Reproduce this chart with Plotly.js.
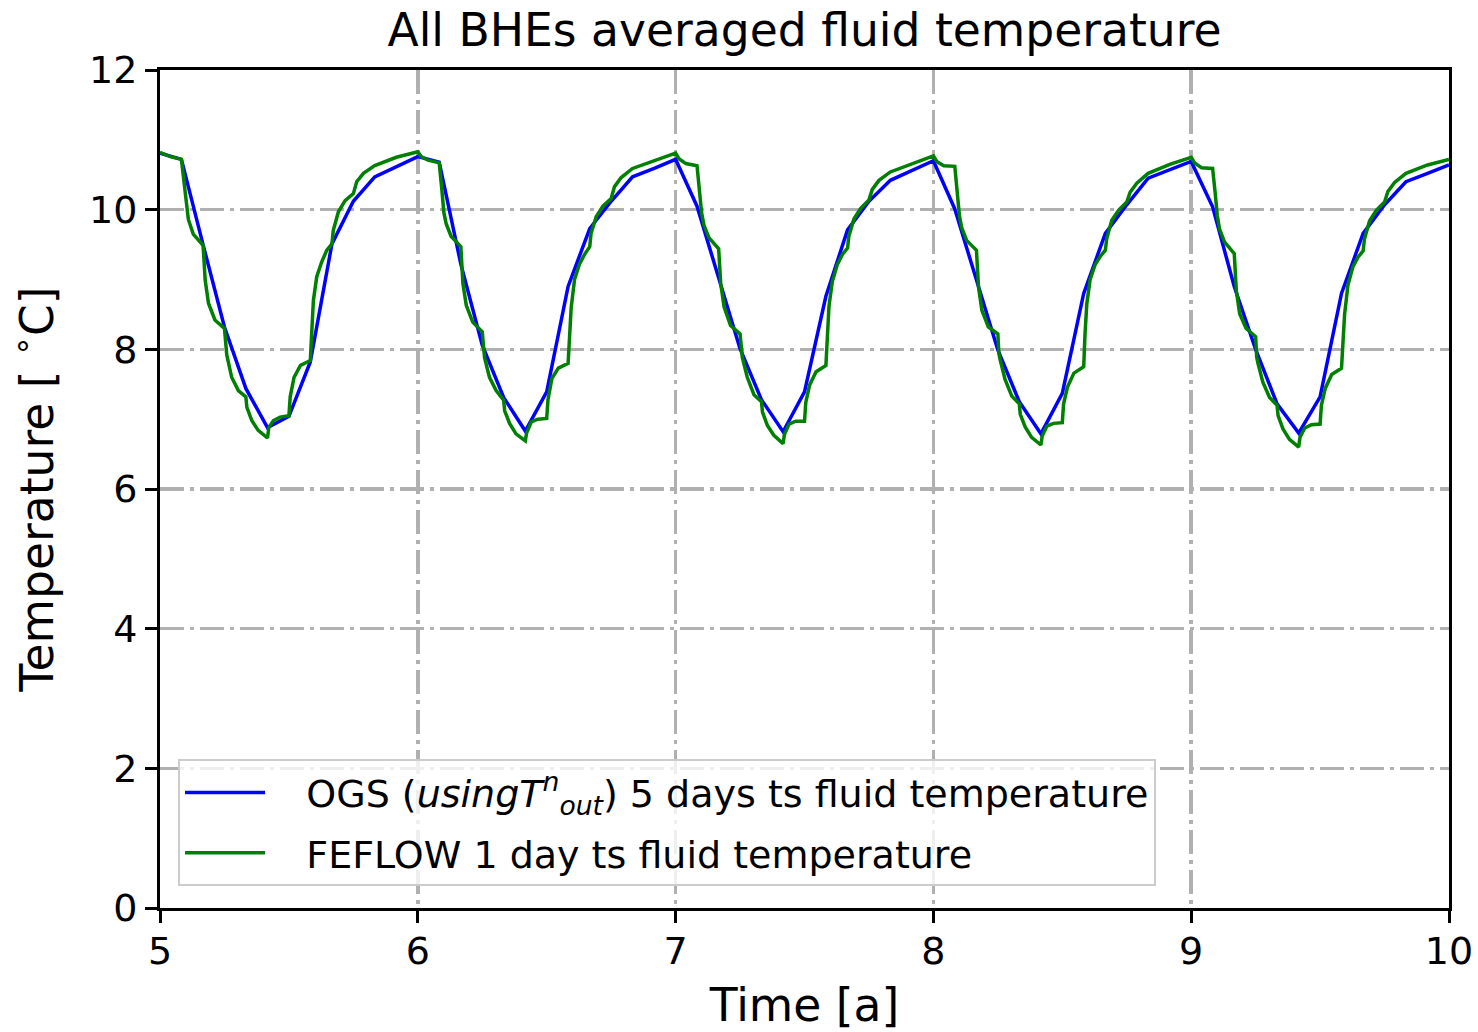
<!DOCTYPE html>
<html><head><meta charset="utf-8">
<script src="https://cdn.plot.ly/plotly-3.0.1.min.js"></script>
<style>html,body{margin:0;padding:0;background:#fff}#chart{width:1478px;height:1032px}</style>
</head><body><div id="chart"></div>
<script>
// ---------- data ----------
const years = [5, 6, 7, 8, 9];

// OGS (5 days ts): monthly readings, fraction of the year
const ogsMonthFrac = [0.000, 0.083, 0.167, 0.250, 0.333, 0.417, 0.500, 0.583, 0.667, 0.750, 0.833, 0.917];
const ogsTemp5 = [10.81, 10.72, 9.50, 8.32, 7.44, 6.88, 7.04, 7.82, 9.51, 10.12, 10.47, 10.61];
const ogsTemp6 = [10.76, 10.68, 9.22, 8.06, 7.31, 6.83, 7.39, 8.90, 9.73, 10.12, 10.47, 10.59];
const ogsTemp7 = [10.72, 10.05, 9.02, 8.01, 7.28, 6.82, 7.39, 8.76, 9.71, 10.12, 10.42, 10.56];
const ogsTemp8 = [10.70, 10.01, 8.99, 7.99, 7.25, 6.79, 7.37, 8.80, 9.66, 10.07, 10.45, 10.57];
const ogsTemp9 = [10.69, 10.04, 8.90, 8.00, 7.22, 6.80, 7.32, 8.80, 9.66, 10.07, 10.40, 10.52];
const ogsEndTime = 10.0;
const ogsEndTemp = 10.64;

// FEFLOW (1 day ts): readings at these fractions of each year
const feflowFrac = [0.013, 0.040,
  0.083, 0.093, 0.101, 0.110, 0.129,
  0.167, 0.170, 0.175, 0.188, 0.213,
  0.250, 0.254, 0.259, 0.278, 0.304,
  0.333, 0.337, 0.356, 0.381,
  0.417,
  0.422, 0.440, 0.466,
  0.500, 0.505, 0.520, 0.545,
  0.583, 0.588, 0.595, 0.608, 0.627, 0.647,
  0.667, 0.672, 0.692, 0.718,
  0.750, 0.763, 0.789, 0.833, 0.917, 1.000];
const feflowStartTime = 5.0;
const feflowStartTemp = 10.82;
const feflowTemp5 = [10.80, 10.76, 10.72, 10.42, 10.08, 9.86, 9.65, 9.49, 9.32, 9.00, 8.66, 8.42, 8.30, 8.13, 7.92, 7.60, 7.41, 7.32, 7.17, 6.98, 6.84, 6.73, 6.88, 6.98, 7.03, 7.05, 7.32, 7.60, 7.77, 7.84, 8.18, 8.70, 9.04, 9.25, 9.42, 9.51, 9.70, 9.97, 10.13, 10.23, 10.40, 10.52, 10.63, 10.75, 10.83];
const feflowTemp6 = [10.76, 10.71, 10.67, 10.30, 9.96, 9.80, 9.62, 9.47, 9.27, 8.94, 8.63, 8.39, 8.25, 7.99, 7.88, 7.60, 7.41, 7.27, 7.12, 6.94, 6.79, 6.69, 6.80, 6.96, 7.00, 7.01, 7.28, 7.58, 7.73, 7.80, 8.15, 8.60, 9.00, 9.22, 9.36, 9.47, 9.66, 9.90, 10.05, 10.16, 10.33, 10.46, 10.59, 10.70, 10.81];
const feflowTemp7 = [10.73, 10.66, 10.63, 10.22, 9.95, 9.78, 9.60, 9.44, 9.27, 8.94, 8.61, 8.34, 8.22, 7.99, 7.88, 7.60, 7.35, 7.25, 7.10, 6.91, 6.77, 6.65, 6.78, 6.93, 6.97, 6.97, 7.24, 7.49, 7.68, 7.77, 8.26, 8.62, 8.97, 9.21, 9.36, 9.45, 9.62, 9.87, 10.02, 10.14, 10.29, 10.42, 10.54, 10.66, 10.77];
const feflowTemp8 = [10.69, 10.63, 10.62, 10.25, 9.91, 9.74, 9.56, 9.42, 9.23, 8.89, 8.56, 8.32, 8.22, 7.94, 7.85, 7.57, 7.33, 7.22, 7.07, 6.89, 6.74, 6.63, 6.76, 6.90, 6.94, 6.95, 7.22, 7.46, 7.66, 7.75, 8.21, 8.65, 9.00, 9.21, 9.33, 9.42, 9.58, 9.85, 9.99, 10.11, 10.25, 10.38, 10.52, 10.65, 10.75];
const feflowTemp9 = [10.67, 10.60, 10.59, 10.24, 9.92, 9.72, 9.54, 9.37, 9.18, 8.84, 8.51, 8.30, 8.18, 7.89, 7.80, 7.53, 7.31, 7.20, 7.05, 6.86, 6.71, 6.60, 6.74, 6.87, 6.92, 6.93, 7.20, 7.44, 7.64, 7.73, 8.05, 8.50, 8.92, 9.18, 9.32, 9.41, 9.58, 9.84, 9.99, 10.11, 10.26, 10.39, 10.52, 10.64, 10.72];

const xTicks = [5, 6, 7, 8, 9, 10];
const yTicks = [0, 2, 4, 6, 8, 10, 12];
const legendPad = '\u00a0\u00a0\u00a0';
const ogsName = legendPad + 'OGS (<i>usingT</i><sup><i>n</i></sup><sub><i>out</i></sub>) 5 days ts fluid temperature';
const feflowName = legendPad + 'FEFLOW 1 day ts fluid temperature';

// ---------- assemble series ----------
const ogsByYear = [ogsTemp5, ogsTemp6, ogsTemp7, ogsTemp8, ogsTemp9];
const feflowByYear = [feflowTemp5, feflowTemp6, feflowTemp7, feflowTemp8, feflowTemp9];
const ogsX = [], ogsY = [];
years.forEach((yr, i) => {
  ogsMonthFrac.forEach((f, j) => { ogsX.push(yr + f); ogsY.push(ogsByYear[i][j]); });
});
ogsX.push(ogsEndTime); ogsY.push(ogsEndTemp);
const feX = [feflowStartTime], feY = [feflowStartTemp];
years.forEach((yr, i) => {
  feflowFrac.forEach((f, j) => { feX.push(yr + f); feY.push(feflowByYear[i][j]); });
});

const traces = [
  {x: ogsX, y: ogsY, type: 'scatter', mode: 'lines', name: ogsName, legendgroup: 'ogs',
   line: {color: '#0000ff', width: 3.5}},
  {x: feX, y: feY, type: 'scatter', mode: 'lines', name: feflowName, legendgroup: 'feflow',
   line: {color: '#008000', width: 3.5}}
];

const axisCommon = {
  ticks: 'outside', ticklen: 12, tickwidth: 3, tickcolor: '#000',
  showline: true, linewidth: 3, linecolor: '#000', mirror: true,
  showgrid: true, gridcolor: '#b0b0b0', gridwidth: 3.5, griddash: '24px,6px,4px,6px',
  zeroline: false, tickfont: {size: 38, color: '#000'}
};

const layout = {
  width: 1478, height: 1032,
  margin: {l: 160, r: 29, t: 70, b: 124},
  paper_bgcolor: '#ffffff', plot_bgcolor: '#ffffff',
  font: {family: 'DejaVu Sans', size: 38, color: '#000'},
  title: {text: 'All BHEs averaged fluid temperature', font: {size: 45.6, color: '#000'},
          x: 0.5, xref: 'paper', xanchor: 'center', y: 1 - 30 / 1032, yref: 'container', yanchor: 'middle'},
  xaxis: Object.assign({}, axisCommon, {range: [5, 10], tickvals: xTicks, ticktext: xTicks.map(String),
          ticklabelstandoff: -5,
          title: {text: 'Time [a]', font: {size: 45.6}, standoff: 22}}),
  yaxis: Object.assign({}, axisCommon, {range: [0, 12], tickvals: yTicks, ticktext: yTicks.map(String),
          title: {text: 'Temperature [ <sup>∘</sup>C]', font: {size: 45.6}, standoff: 22}}),
  showlegend: true,
  legend: {x: 0.014, y: 0.026, xanchor: 'left', yanchor: 'bottom', traceorder: 'grouped', tracegroupgap: 8,
           bgcolor: 'rgba(255,255,255,0.8)', bordercolor: '#cccccc', borderwidth: 2,
           font: {size: 38, color: '#000'}, itemwidth: 80}
};

Plotly.newPlot('chart', traces, layout, {displayModeBar: false, staticPlot: true});
</script>
</body></html>
